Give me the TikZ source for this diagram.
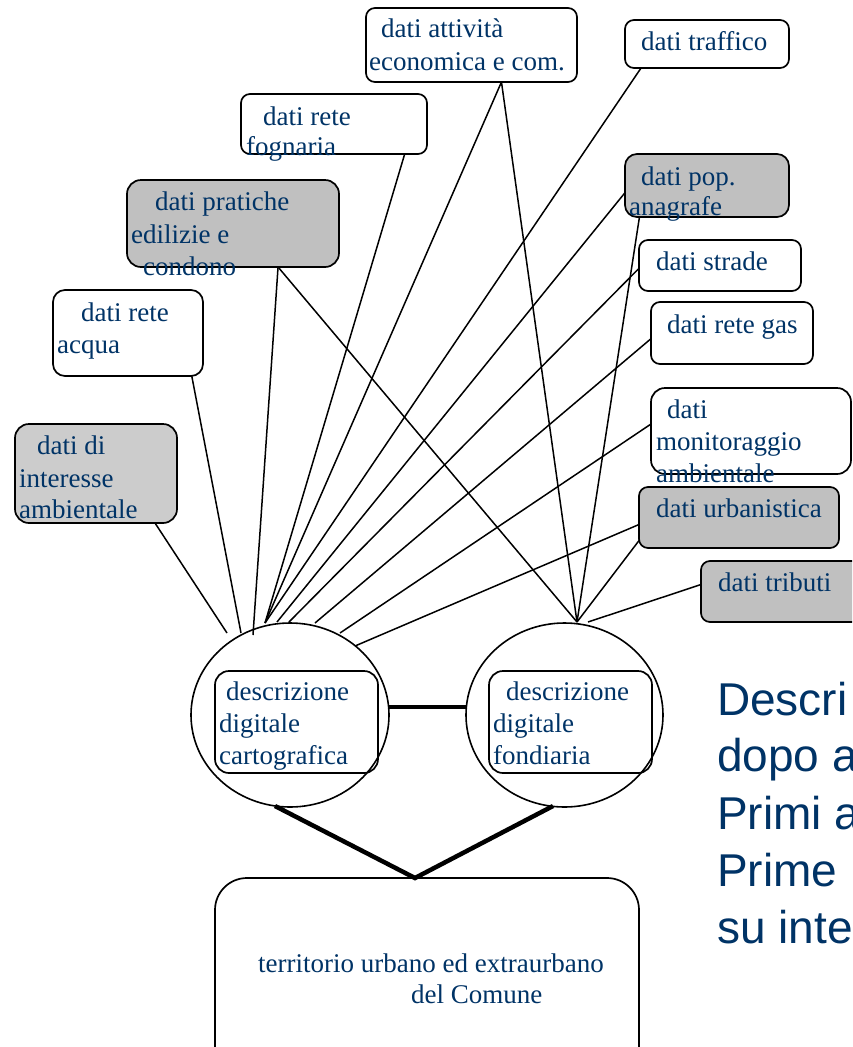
\documentclass[tikz,border=0pt]{standalone}
\usepackage{fontspec}
\setmainfont{Liberation Serif}
\newfontfamily\headsans{Liberation Sans}
\usetikzlibrary{calc,shapes.geometric}
\definecolor{txtblue}{RGB}{0,51,102}
\definecolor{boxgray}{RGB}{192,192,192}
\definecolor{boxlight}{RGB}{204,204,204}

\begin{document}
\begin{tikzpicture}[x=1pt,y=-1pt,
  box/.style={draw=black, line width=1.7pt, rounded corners=9pt, fill=white,
              inner sep=0pt, outer sep=0pt},
  greybox/.style={box, fill=boxgray},
  ln/.style={anchor=base west, inner sep=0pt, text=txtblue,
             font=\fontsize{27}{32}\selectfont},
  bigln/.style={anchor=base west, inner sep=0pt, text=txtblue,
                font=\headsans\fontsize{46}{57}\selectfont},
  wire/.style={draw=black, line width=1.5pt},
  heavy/.style={draw=black, line width=4.5pt},
  oval/.style={draw=black, line width=1.6pt, ellipse, inner sep=0pt, outer sep=0pt},
]
\useasboundingbox (0,0) rectangle (852,1047);
\clip (0,0) rectangle (852,1047);

% ---------- data sources ----------
\node[box, minimum width=211pt, minimum height=74pt] (att) at (471.5,45) {};
\node[box, minimum width=164pt, minimum height=48pt] (traf) at (707,44) {};
\node[box, minimum width=186pt, minimum height=60pt] (fog) at (334,124) {};
\node[greybox, rounded corners=14pt, minimum width=212pt, minimum height=87pt] (prat) at (233,223.5) {};
\node[box, rounded corners=12pt, minimum width=150pt, minimum height=86pt] (acq) at (128,333) {};
\node[box, fill=boxlight, rounded corners=14pt, minimum width=162pt, minimum height=99pt] (int) at (96,473.5) {};
\node[greybox, rounded corners=12pt, minimum width=164pt, minimum height=63pt] (pop) at (707,185.5) {};
\node[box, minimum width=162pt, minimum height=51pt] (str) at (720,265.5) {};
\node[box, minimum width=162pt, minimum height=62pt] (gas) at (732,333) {};
\node[box, rounded corners=14pt, minimum width=200pt, minimum height=86pt] (mon) at (751,431) {};
\node[greybox, minimum width=200pt, minimum height=61pt] (urb) at (739,517.5) {};
\node[greybox, minimum width=200pt, minimum height=61pt] (trib) at (801,591.5) {};

% ---------- the two digital descriptions ----------
\node[oval, minimum width=198pt, minimum height=184pt] (cart) at (290,715) {};
\node[oval, minimum width=197pt, minimum height=184pt] (fond) at (564.5,715) {};
\node[box, fill=none, rounded corners=14pt, minimum width=163pt, minimum height=102pt] (cartin) at (296.5,722) {};
\node[box, fill=none, rounded corners=14pt, minimum width=163pt, minimum height=102pt] (fondin) at (570.5,722) {};

% ---------- territory ----------
\node[box, rounded corners=32pt, minimum width=424pt, minimum height=202pt] (terr) at (427,979) {};

% ---------- connector ends on the ovals ----------
\coordinate (eInt)  at ($(cart)+(-63,-82)$);
\coordinate (eAcq)  at ($(cart)+(-49,-82)$);
\coordinate (ePrat) at ($(cart)+(-37,-80)$);
\coordinate (eFan)  at ($(cart)+(-25,-92)$);
\coordinate (ePop)  at ($(cart)+(-13,-93)$);
\coordinate (eStr)  at ($(cart)+(-1,-93)$);
\coordinate (eGas)  at ($(cart)+(25,-92)$);
\coordinate (eMon)  at ($(cart)+(50,-82)$);
\coordinate (eUrb)  at ($(cart)+(65,-69)$);
\coordinate (fFan)  at ($(fond)+(12.5,-93)$);
\coordinate (fTrib) at ($(fond)+(23.5,-93)$);

% ---------- connectors to the cartographic description ----------
\draw[wire] (int.-40.5)   -- (eInt);
\draw[wire] (acq.-34.3)   -- (eAcq);
\draw[wire] (prat.-44.7)  -- (ePrat);
\draw[wire] (fog.-23.5)   -- (eFan);
\draw[wire] (att.-51.4)   -- (eFan);
\draw[wire] (traf.-160.8) -- (eFan);
\draw[wire] (pop.-175.4)  -- (ePop);
\draw[wire] (str.-178.2)  -- (eStr);
\draw[wire] (gas.-176.5)  -- (eGas);
\draw[wire] (mon.176.6)   -- (eMon);
\draw[wire] (urb.-176.9)  -- (eUrb);

% ---------- connectors to the land-registry description ----------
\draw[wire] (prat.-44.7)  -- (fFan);
\draw[wire] (att.-51.4)   -- (fFan);
\draw[wire] (pop.-155.1)  -- (fFan);
\draw[wire] (urb.-167.9)  -- (fFan);
\draw[wire] (trib.176.3)  -- (fTrib);

% ---------- heavy links ----------
\coordinate (mL) at ($(cart)+(98.6,-8)$);
\coordinate (mR) at ($(fond)+(-98,-8)$);
\draw[heavy, line width=4pt] (mL) -- (mR);
\coordinate (vL) at ($(cart)+(-15,91)$);
\coordinate (vR) at ($(fond)+(-11.5,91)$);
\coordinate (vA) at ($(terr.north)+(-12,0)$);
\draw[heavy] (vL) -- (vA) -- (vR);

% ---------- labels ----------
\node[ln] (att1) at (381,37) {dati attività};
\node[ln] (att2) at (369,70) {economica e com.};
\node[ln] (traf1) at (641,50) {dati traffico};
\node[ln] (fog1) at (263,125) {dati rete};
\node[ln] (fog2) at (246,155) {fognaria};
\node[ln] (prat1) at (155,210) {dati pratiche};
\node[ln] (prat2) at (131,243) {edilizie e};
\node[ln] (prat3) at (143,275) {condono};
\node[ln] (acq1) at (81,321) {dati rete};
\node[ln] (acq2) at (57,353) {acqua};
\node[ln] (int1) at (37,454) {dati di};
\node[ln] (int2) at (19,487) {interesse};
\node[ln] (int3) at (19,518) {ambientale};
\node[ln] (pop1) at (641,185) {dati pop.};
\node[ln] (pop2) at (629,215) {anagrafe};
\node[ln] (str1) at (656,270) {dati strade};
\node[ln] (gas1) at (667,333) {dati rete gas};
\node[ln] (mon1) at (667,418) {dati};
\node[ln] (mon2) at (656,450) {monitoraggio};
\node[ln] (mon3) at (656,482) {ambientale};
\node[ln] (urb1) at (656,517) {dati urbanistica};
\node[ln] (trib1) at (718,591) {dati tributi};
\node[ln] (cart1) at (226,700) {descrizione};
\node[ln] (cart2) at (219,732) {digitale};
\node[ln] (cart3) at (219,764) {cartografica};
\node[ln] (fond1) at (506,700) {descrizione};
\node[ln] (fond2) at (493,732) {digitale};
\node[ln] (fond3) at (493,764) {fondiaria};
\node[ln] (terr1) at (258,972) {territorio urbano ed extraurbano};
\node[ln] (terr2) at (411,1003) {del Comune};

% ---------- side text ----------
\node[bigln] (side1) at (717,715) {Descri};
\node[bigln] (side2) at (717,771) {dopo a};
\node[bigln] (side3) at (717,829) {Primi a};
\node[bigln] (side4) at (717,886) {Prime};
\node[bigln] (side5) at (717,943) {su inte};
\end{tikzpicture}
\end{document}
